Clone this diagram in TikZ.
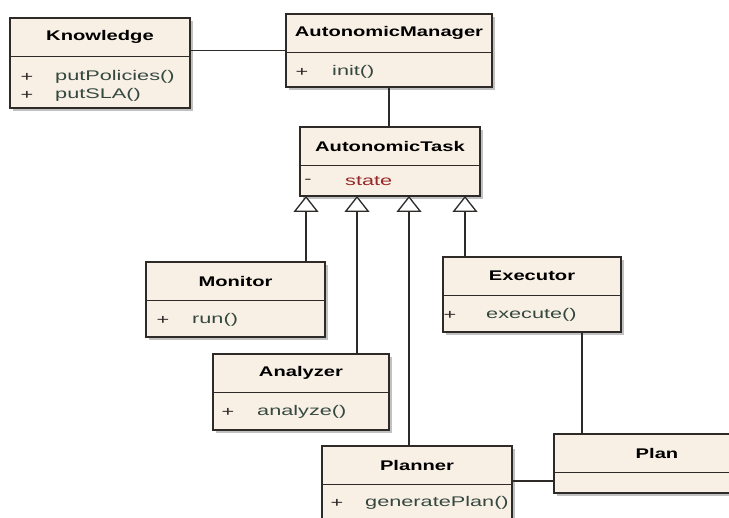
\documentclass[tikz,border=0pt]{standalone}
\usepackage{fontspec}
\usepackage{tikz}
\usetikzlibrary{arrows.meta, shadows, calc}
\newfontfamily\titlefont[FakeStretch=1.44]{Liberation Sans}
\newfontfamily\opfont[FakeStretch=1.55]{Liberation Sans}

\begin{document}
\begin{tikzpicture}[x=1pt, y=-1pt]
    % Define colours and styles for classes and connectors
    \definecolor{boxfill}{RGB}{249,240,229}
    \definecolor{boxline}{RGB}{45,42,40}
    \definecolor{optext}{RGB}{52,72,64}
    \definecolor{attrtext}{RGB}{150,40,40}
    \tikzset{
        umlclass/.style={rectangle, draw=boxline, fill=boxfill, line width=1.3pt, inner sep=0pt, outer sep=0pt, anchor=north west,
            drop shadow={shadow xshift=3pt, shadow yshift=-3pt, fill=black!35, opacity=0.7}},
        umlline/.style={draw=boxline, line width=1.1pt},
        umltitle/.style={inner sep=0pt, font=\titlefont\bfseries\fontsize{14}{16}\selectfont},
        vis/.style={inner sep=0pt, text=boxline, font=\opfont\fontsize{14}{16}\selectfont},
        op/.style={inner sep=0pt, anchor=west, text=optext, font=\opfont\fontsize{14}{16}\selectfont},
        assoc/.style={draw=boxline, line width=1.3pt},
        gen/.style={draw=boxline, line width=1.3pt, -{Triangle[width=25pt, length=16pt, fill=white]}}
    }

    \useasboundingbox (0,0) rectangle (729,518);
    \clip (0,0) rectangle (729,518);

    % ==========================================
    % CLASS BOXES
    % ==========================================
    % name / left / top / width / height / title
    \foreach \n/\x/\y/\w/\h/\t in {
        know/10/18/180/90/Knowledge,
        mgr/286/14/206/73/AutonomicManager,
        task/300/127/180/69/AutonomicTask,
        mon/146/262/179/75/Monitor,
        exe/443/257/178/75/Executor,
        ana/213/354/176/76/Analyzer,
        plnr/322/446/190/94/Planner,
        plan/554/434/206/59/Plan} {
        \node[umlclass, minimum width=\w pt, minimum height=\h pt] (\n) at (\x,\y) {};
        \draw[umlline] ([yshift=-38.5pt]\n.north west) -- ([yshift=-38.5pt]\n.north east);
        \node[umltitle] (\n-t) at ([yshift=-19pt]\n.north) {\t};
    }

    % ==========================================
    % OPERATIONS AND ATTRIBUTES
    % ==========================================
    \node[vis] (know-v1) at ([xshift=17pt, yshift=-59pt]know.north west) {+};
    \node[op] (know-o1) at ([xshift=45pt, yshift=-59pt]know.north west) {putPolicies()};
    \node[vis] (know-v2) at ([xshift=17pt, yshift=-77pt]know.north west) {+};
    \node[op] (know-o2) at ([xshift=45pt, yshift=-77pt]know.north west) {putSLA()};

    \node[vis] (mgr-v1) at ([xshift=16pt, yshift=-58pt]mgr.north west) {+};
    \node[op] (mgr-o1) at ([xshift=46pt, yshift=-58pt]mgr.north west) {init()};

    \node[vis] (task-v1) at ([xshift=8pt, yshift=-54pt]task.north west) {-};
    \node[op, text=attrtext] (task-a1) at ([xshift=45pt, yshift=-54pt]task.north west) {state};

    \node[vis] (mon-v1) at ([xshift=17pt, yshift=-58pt]mon.north west) {+};
    \node[op] (mon-o1) at ([xshift=46pt, yshift=-58pt]mon.north west) {run()};

    \node[vis] (exe-v1) at ([xshift=7pt, yshift=-58pt]exe.north west) {+};
    \node[op] (exe-o1) at ([xshift=43pt, yshift=-58pt]exe.north west) {execute()};

    \node[vis] (ana-v1) at ([xshift=15pt, yshift=-58pt]ana.north west) {+};
    \node[op] (ana-o1) at ([xshift=44pt, yshift=-58pt]ana.north west) {analyze()};

    \node[vis] (plnr-v1) at ([xshift=15pt, yshift=-57pt]plnr.north west) {+};
    \node[op] (plnr-o1) at ([xshift=43pt, yshift=-57pt]plnr.north west) {generatePlan()};

    % ==========================================
    % CONNECTORS
    % ==========================================
    % Associations
    \draw[assoc] (know.east |- mgr.west) -- (mgr.west);
    \draw[assoc] (mgr.south) -- (mgr.south |- task.north);
    \draw[assoc] ([xshift=50pt]exe.south) -- ([xshift=50pt]exe.south |- plan.north);
    \coordinate (pp) at ([yshift=-17.5pt]plan.west);
    \draw[assoc] (plnr.east |- pp) -- (pp);

    % Generalisations up to AutonomicTask
    \foreach \g/\dx in {g1/6, g2/57, g3/109, g4/165} {
        \coordinate (\g) at ([xshift=\dx pt]task.south west);
    }
    \draw[gen] (g1 |- mon.north) -- (g1);
    \draw[gen] (g2 |- ana.north) -- (g2);
    \draw[gen] (g3 |- plnr.north) -- (g3);
    \draw[gen] (g4 |- exe.north) -- (g4);

\end{tikzpicture}
\end{document}
